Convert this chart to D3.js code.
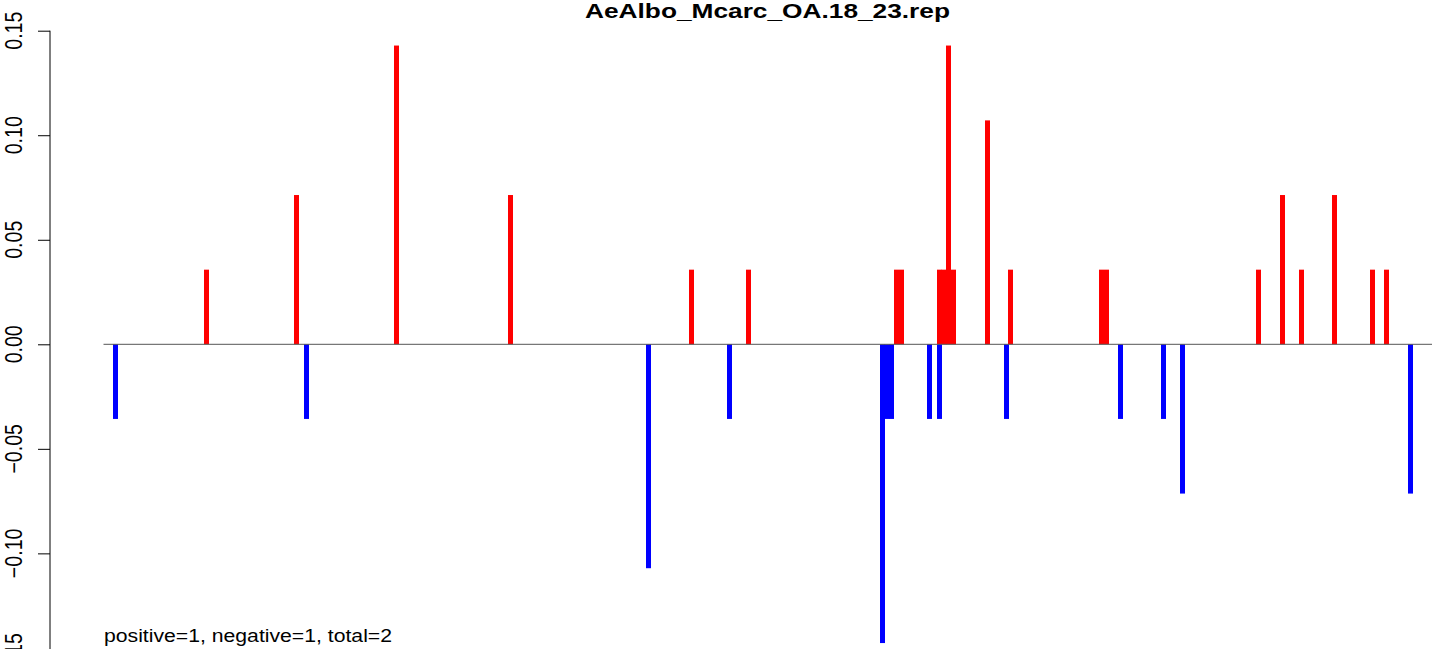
<!DOCTYPE html>
<html>
<head>
<meta charset="utf-8">
<script src="https://cdn.jsdelivr.net/npm/d3@7"></script>
<style>
  html, body { margin: 0; padding: 0; background: #fff; }
  svg { display: block; }
  text { font-family: "Liberation Sans", Arial, Helvetica, sans-serif; fill: #000; }
</style>
</head>
<body>
<svg id="chart" width="1441" height="649"></svg>
<script>
// ---- data ----
const title = "AeAlbo_Mcarc_OA.18_23.rep";
const footnote = "positive=1, negative=1, total=2";
const positionRange = [0, 1328];
const yTicks = [-0.15, -0.10, -0.05, 0.00, 0.05, 0.10, 0.15];

const positivePositions = [102.5, 192.5, 292.5, 406.5, 587.5, 644.5, 792.5, 797.5, 835.5, 840, 844.5, 849.5, 883.5, 906.5, 997.5, 1002.5, 1154.5, 1178.5, 1197.5, 1230.5, 1268.5, 1282.5];
const positiveValues    = [0.0357, 0.0714, 0.1429, 0.0714, 0.0357, 0.0357, 0.0357, 0.0357, 0.0357, 0.0357, 0.1429, 0.0357, 0.1071, 0.0357, 0.0357, 0.0357, 0.0357, 0.0714, 0.0357, 0.0714, 0.0357, 0.0357];

const negativePositions = [11.5, 202.5, 544.5, 625.5, 778.5, 783, 787.5, 825.5, 835.5, 902.5, 1016.5, 1059.5, 1078.5, 1306.5];
const negativeValues    = [-0.0357, -0.0357, -0.1071, -0.0357, -0.1429, -0.0357, -0.0357, -0.0357, -0.0357, -0.0357, -0.0357, -0.0357, -0.0714, -0.0714];

// ---- chart ----
const svg = d3.select("#chart");
const x = d3.scaleLinear().domain(positionRange).range([104, 1432]);
const y = d3.scaleLinear().domain([-0.15, 0.15]).range([657.9, 30.7]);
const barW = 5;

const pos = positivePositions.map((p, i) => ({p, v: positiveValues[i]}));
const neg = negativePositions.map((p, i) => ({p, v: negativeValues[i]}));

svg.append("g").selectAll("rect").data(pos).join("rect")
  .attr("x", d => x(d.p) - barW / 2)
  .attr("y", d => y(d.v))
  .attr("width", barW)
  .attr("height", d => y(0) - y(d.v))
  .attr("fill", "#ff0000");

svg.append("g").selectAll("rect").data(neg).join("rect")
  .attr("x", d => x(d.p) - barW / 2)
  .attr("y", y(0))
  .attr("width", barW)
  .attr("height", d => y(d.v) - y(0))
  .attr("fill", "#0000ff");

// zero line
svg.append("line")
  .attr("x1", x(positionRange[0]) - 0.5).attr("x2", x(positionRange[1]))
  .attr("y1", y(0)).attr("y2", y(0))
  .attr("stroke", "#555").attr("stroke-width", 1);

// y axis
const axisX = 50;
const yAxis = d3.axisLeft(y).tickValues(yTicks).tickSize(12).tickFormat(() => "");
const ga = svg.append("g").attr("transform", `translate(${axisX},0)`).call(yAxis);
ga.select(".domain").attr("d", `M0,${y(0.15)}V${y(-0.15)}`).attr("stroke", "#000").attr("stroke-width", 1);
ga.selectAll(".tick line").attr("stroke", "#000").attr("stroke-width", 1);

const fmt = v => d3.format(".2f")(v).replace("-", "\u2212");
svg.append("g").selectAll("text").data(yTicks).join("text")
  .attr("transform", d => `translate(21.7,${y(d)}) scale(1.19,1) rotate(-90)`)
  .attr("text-anchor", "middle")
  .style("font-size", "19.6px")
  .text(d => fmt(d));

// title
svg.append("text")
  .attr("x", 767.5).attr("y", 18.3)
  .attr("text-anchor", "middle")
  .attr("textLength", 365).attr("lengthAdjust", "spacingAndGlyphs")
  .style("font-size", "21px").style("font-weight", "bold")
  .text(title);

// footnote
svg.append("text")
  .attr("x", 104).attr("y", 641.7)
  .attr("textLength", 288).attr("lengthAdjust", "spacingAndGlyphs")
  .style("font-size", "17.5px")
  .text(footnote);
</script>
</body>
</html>
